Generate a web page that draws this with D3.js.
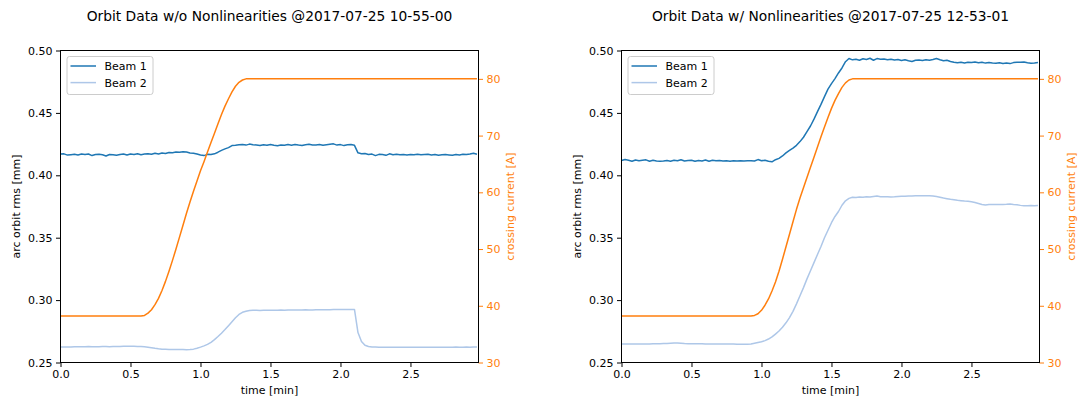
<!DOCTYPE html>
<html>
<head>
<meta charset="utf-8">
<script src="https://cdn.jsdelivr.net/npm/d3@7"></script>
<style>
  body { margin: 0; background: #fff; }
  svg { display: block; }
  text { font-family: "DejaVu Sans", sans-serif; fill: #000; }
</style>
</head>
<body>
<svg id="chart" width="1078" height="404"></svg>
<script>
// ---- data ----------------------------------------------------------------
// Orbit rms samples every 0.025 min (1.5 s) from t = 0 to 2.975 min.
const sampleStep = 0.025;
const sampleCount = 120;
const times = d3.range(sampleCount).map(i => +(i * sampleStep).toFixed(3));

const titles = [
  "Orbit Data w/o Nonlinearities @2017-07-25 10-55-00",
  "Orbit Data w/ Nonlinearities @2017-07-25 12-53-01"
];
const seriesNames = ["Beam 1", "Beam 2"];
const xTicks = [0.0, 0.5, 1.0, 1.5, 2.0, 2.5];
const yTicks = [0.25, 0.30, 0.35, 0.40, 0.45, 0.50];
const currentTicks = [30, 40, 50, 60, 70, 80];

// run without nonlinearities
const leftBeam1 = [
  0.4170,0.4172,0.4162,0.4165,0.4168,0.4163,0.4170,0.4166,0.4171,0.4158,
  0.4166,0.4168,0.4164,0.4155,0.4167,0.4165,0.4160,0.4166,0.4170,0.4162,
  0.4170,0.4166,0.4172,0.4165,0.4170,0.4173,0.4168,0.4176,0.4170,0.4178,
  0.4175,0.4183,0.4180,0.4186,0.4184,0.4188,0.4186,0.4178,0.4176,0.4170,
  0.4162,0.4158,0.4168,0.4166,0.4172,0.4185,0.4200,0.4212,0.4222,0.4238,
  0.4240,0.4244,0.4247,0.4242,0.4250,0.4245,0.4243,0.4238,0.4244,0.4240,
  0.4246,0.4240,0.4236,0.4243,0.4240,0.4246,0.4241,0.4247,0.4242,0.4238,
  0.4245,0.4248,0.4242,0.4243,0.4246,0.4240,0.4244,0.4248,0.4252,0.4242,
  0.4246,0.4238,0.4244,0.4247,0.4240,0.4180,0.4172,0.4174,0.4166,0.4170,
  0.4158,0.4168,0.4166,0.4160,0.4172,0.4165,0.4168,0.4164,0.4166,0.4163,
  0.4166,0.4165,0.4168,0.4164,0.4166,0.4168,0.4162,0.4167,0.4160,0.4164,
  0.4166,0.4163,0.4160,0.4166,0.4163,0.4168,0.4166,0.4170,0.4176,0.4168
];
const leftBeam2 = [
  0.2625,0.2625,0.2624,0.2625,0.2626,0.2626,0.2627,0.2627,0.2628,0.2627,
  0.2626,0.2627,0.2628,0.2628,0.2627,0.2628,0.2629,0.2629,0.2630,0.2630,
  0.2630,0.2630,0.2629,0.2628,0.2626,0.2623,0.2619,0.2614,0.2610,0.2607,
  0.2606,0.2605,0.2605,0.2605,0.2604,0.2604,0.2603,0.2604,0.2607,0.2614,
  0.2623,0.2633,0.2645,0.2662,0.2683,0.2708,0.2735,0.2764,0.2795,0.2826,
  0.2858,0.2885,0.2902,0.2910,0.2916,0.2918,0.2918,0.2917,0.2918,0.2919,
  0.2918,0.2918,0.2919,0.2920,0.2919,0.2920,0.2921,0.2920,0.2920,0.2921,
  0.2922,0.2921,0.2921,0.2922,0.2922,0.2923,0.2922,0.2923,0.2924,0.2924,
  0.2924,0.2925,0.2925,0.2925,0.2925,0.2740,0.2668,0.2638,0.2628,0.2625,
  0.2624,0.2623,0.2623,0.2622,0.2622,0.2623,0.2622,0.2622,0.2623,0.2622,
  0.2622,0.2622,0.2623,0.2622,0.2622,0.2623,0.2623,0.2622,0.2623,0.2623,
  0.2622,0.2623,0.2623,0.2624,0.2623,0.2623,0.2624,0.2623,0.2624,0.2624
];
// crossing current set points [min] / [A]
const leftCurrentTime = [
  0.000,0.575,0.600,0.625,0.650,0.675,0.700,0.725,0.750,0.775,0.800,0.825,
  0.850,0.875,0.900,0.925,0.950,0.975,1.000,1.025,1.050,1.075,1.100,1.125,
  1.150,1.175,1.200,1.225,1.250,1.275,1.300,1.325,2.975
];
const leftCurrentValue = [
  38.2,38.2,38.3,38.7,39.3,40.2,41.3,42.7,44.3,46.1,48.0,50.0,
  52.1,54.2,56.3,58.3,60.2,62.0,63.8,65.4,67.1,68.8,70.4,72.1,
  73.7,75.2,76.5,77.7,78.7,79.4,79.8,80.0,80.0
];

// run with nonlinearities
const rightBeam1 = [
  0.4118,0.4126,0.4120,0.4112,0.4122,0.4116,0.4120,0.4124,0.4113,0.4121,
  0.4115,0.4112,0.4114,0.4118,0.4113,0.4120,0.4116,0.4125,0.4114,0.4118,
  0.4121,0.4112,0.4119,0.4115,0.4122,0.4113,0.4120,0.4116,0.4119,0.4115,
  0.4116,0.4113,0.4117,0.4115,0.4116,0.4114,0.4117,0.4116,0.4115,0.4126,
  0.4116,0.4121,0.4112,0.4108,0.4125,0.4136,0.4155,0.4180,0.4200,0.4218,
  0.4240,0.4270,0.4305,0.4350,0.4395,0.4450,0.4510,0.4568,0.4630,0.4690,
  0.4735,0.4775,0.4820,0.4860,0.4910,0.4936,0.4925,0.4930,0.4922,0.4934,
  0.4928,0.4938,0.4922,0.4935,0.4930,0.4932,0.4926,0.4930,0.4924,0.4928,
  0.4920,0.4926,0.4918,0.4912,0.4922,0.4924,0.4920,0.4926,0.4922,0.4928,
  0.4936,0.4926,0.4918,0.4922,0.4912,0.4906,0.4902,0.4905,0.4900,0.4906,
  0.4903,0.4908,0.4902,0.4906,0.4899,0.4904,0.4900,0.4898,0.4902,0.4896,
  0.4900,0.4895,0.4903,0.4906,0.4905,0.4908,0.4902,0.4898,0.4900,0.4904
];
const rightBeam2 = [
  0.2649,0.2649,0.2648,0.2649,0.2649,0.2648,0.2649,0.2648,0.2649,0.2650,
  0.2650,0.2651,0.2652,0.2652,0.2654,0.2656,0.2657,0.2655,0.2652,0.2651,
  0.2651,0.2650,0.2650,0.2650,0.2649,0.2649,0.2648,0.2648,0.2648,0.2648,
  0.2649,0.2648,0.2648,0.2647,0.2647,0.2647,0.2646,0.2648,0.2654,0.2660,
  0.2666,0.2675,0.2688,0.2705,0.2728,0.2752,0.2782,0.2818,0.2860,0.2910,
  0.2970,0.3035,0.3100,0.3170,0.3235,0.3300,0.3365,0.3430,0.3500,0.3560,
  0.3620,0.3670,0.3710,0.3760,0.3796,0.3815,0.3824,0.3823,0.3826,0.3824,
  0.3828,0.3826,0.3830,0.3834,0.3829,0.3828,0.3828,0.3827,0.3828,0.3830,
  0.3832,0.3833,0.3834,0.3835,0.3836,0.3836,0.3837,0.3837,0.3836,0.3834,
  0.3830,0.3824,0.3818,0.3813,0.3808,0.3804,0.3800,0.3797,0.3794,0.3792,
  0.3788,0.3782,0.3774,0.3766,0.3762,0.3766,0.3767,0.3766,0.3767,0.3767,
  0.3768,0.3770,0.3766,0.3764,0.3759,0.3756,0.3757,0.3758,0.3757,0.3758
];
const rightCurrentTime = [
  0.000,0.925,0.950,0.975,1.000,1.025,1.050,1.075,1.100,1.125,1.150,1.175,
  1.200,1.225,1.250,1.275,1.300,1.325,1.350,1.375,1.400,1.425,1.450,1.475,
  1.500,1.525,1.550,1.575,1.600,1.625,1.650,2.975
];
const rightCurrentValue = [
  38.2,38.2,38.3,38.6,39.2,40.1,41.2,42.6,44.2,46.1,48.2,50.4,
  52.6,54.8,57.0,59.0,60.8,62.6,64.4,66.2,68.0,69.8,71.5,73.2,
  74.8,76.2,77.4,78.5,79.3,79.8,80.0,80.0
];

// ---- layout --------------------------------------------------------------
const svg = d3.select("#chart");
const C_BEAM1 = "#1f77b4", C_BEAM2 = "#aec7e8", C_CURRENT = "#ff7f0e";
const plotTop = 50.5, plotBottom = 362.5, plotWidth = 418;

const panels = [
  { left: 60.5,  title: titles[0], beam1: leftBeam1,  beam2: leftBeam2,
    curT: leftCurrentTime,  curV: leftCurrentValue },
  { left: 621.5, title: titles[1], beam1: rightBeam1, beam2: rightBeam2,
    curT: rightCurrentTime, curV: rightCurrentValue }
];

panels.forEach(p => {
  const x0 = p.left, x1 = p.left + plotWidth;
  const x = d3.scaleLinear().domain([0, 2.986]).range([x0, x1]);
  const y = d3.scaleLinear().domain([0.25, 0.50]).range([plotBottom, plotTop]);
  const yc = d3.scaleLinear().domain([30, 85]).range([plotBottom, plotTop]);

  const g = svg.append("g");

  // orbit rms traces
  const orbitLine = d3.line().x((d, i) => x(times[i])).y(d => y(d));
  g.append("path").datum(p.beam1).attr("d", orbitLine)
    .attr("fill", "none").attr("stroke", C_BEAM1).attr("stroke-width", 1.5)
    .attr("stroke-linejoin", "round");
  g.append("path").datum(p.beam2).attr("d", orbitLine)
    .attr("fill", "none").attr("stroke", C_BEAM2).attr("stroke-width", 1.5)
    .attr("stroke-linejoin", "round");

  // crossing current on twin axis (drawn above)
  const curLine = d3.line().x((d, i) => x(p.curT[i])).y(d => yc(d));
  g.append("path").datum(p.curV).attr("d", curLine)
    .attr("fill", "none").attr("stroke", C_CURRENT).attr("stroke-width", 1.5)
    .attr("stroke-linejoin", "round");

  // axes
  const fmt2 = d3.format(".2f"), fmt1 = d3.format(".1f");
  const bottomAxis = g.append("g").attr("transform", `translate(0,${plotBottom})`)
    .call(d3.axisBottom(x).tickValues(xTicks).tickFormat(fmt1)
      .tickSize(4.5).tickSizeOuter(0).tickPadding(3.5));
  const leftAxis = g.append("g").attr("transform", `translate(${x0},0)`)
    .call(d3.axisLeft(y).tickValues(yTicks).tickFormat(fmt2)
      .tickSize(4.5).tickSizeOuter(0).tickPadding(3.5));
  const rightAxis = g.append("g").attr("transform", `translate(${x1},0)`)
    .call(d3.axisRight(yc).tickValues(currentTicks).tickFormat(d3.format("d"))
      .tickSize(4.5).tickSizeOuter(0).tickPadding(3.5));

  [bottomAxis, leftAxis, rightAxis].forEach(a => {
    a.select(".domain").remove();
    a.selectAll("text").style("font-size", "11px").attr("font-family", "DejaVu Sans");
    a.selectAll("line").attr("stroke", "#000").attr("stroke-width", 1);
  });
  rightAxis.selectAll("line").attr("stroke", C_CURRENT);
  rightAxis.selectAll("text").style("fill", C_CURRENT);

  // frame
  g.append("rect").attr("x", x0).attr("y", plotTop)
    .attr("width", plotWidth).attr("height", plotBottom - plotTop)
    .attr("fill", "none").attr("stroke", "#000").attr("stroke-width", 1);

  // labels
  g.append("text").attr("x", (x0 + x1) / 2).attr("y", 394)
    .attr("text-anchor", "middle").style("font-size", "11px").text("time [min]");
  g.append("text").attr("transform", `translate(${x0 - 41},${(plotTop + plotBottom) / 2}) rotate(-90)`)
    .attr("text-anchor", "middle").style("font-size", "11px").text("arc orbit rms [mm]");
  g.append("text").attr("transform", `translate(${x1 + 35.5},${(plotTop + plotBottom) / 2}) rotate(-90)`)
    .attr("text-anchor", "middle").style("font-size", "11px").style("fill", C_CURRENT)
    .text("crossing current [A]");
  g.append("text").attr("x", (x0 + x1) / 2).attr("y", 21)
    .attr("text-anchor", "middle").style("font-size", "13.8px").text(p.title);

  // legend
  const lg = g.append("g").attr("transform", `translate(${x0 + 6},${56})`);
  lg.append("rect").attr("x", 0.5).attr("y", 0.5).attr("width", 86).attr("height", 38)
    .attr("rx", 2.5).attr("fill", "#fff").attr("fill-opacity", 0.8)
    .attr("stroke", "#ccc").attr("stroke-width", 1);
  [C_BEAM1, C_BEAM2].forEach((c, i) => {
    const yy = 10 + i * 16.6;
    lg.append("line").attr("x1", 4).attr("x2", 29.5).attr("y1", yy).attr("y2", yy)
      .attr("stroke", c).attr("stroke-width", 1.5);
    lg.append("text").attr("x", 38).attr("y", yy + 4)
      .style("font-size", "11px").text(seriesNames[i]);
  });
});
</script>
</body>
</html>
